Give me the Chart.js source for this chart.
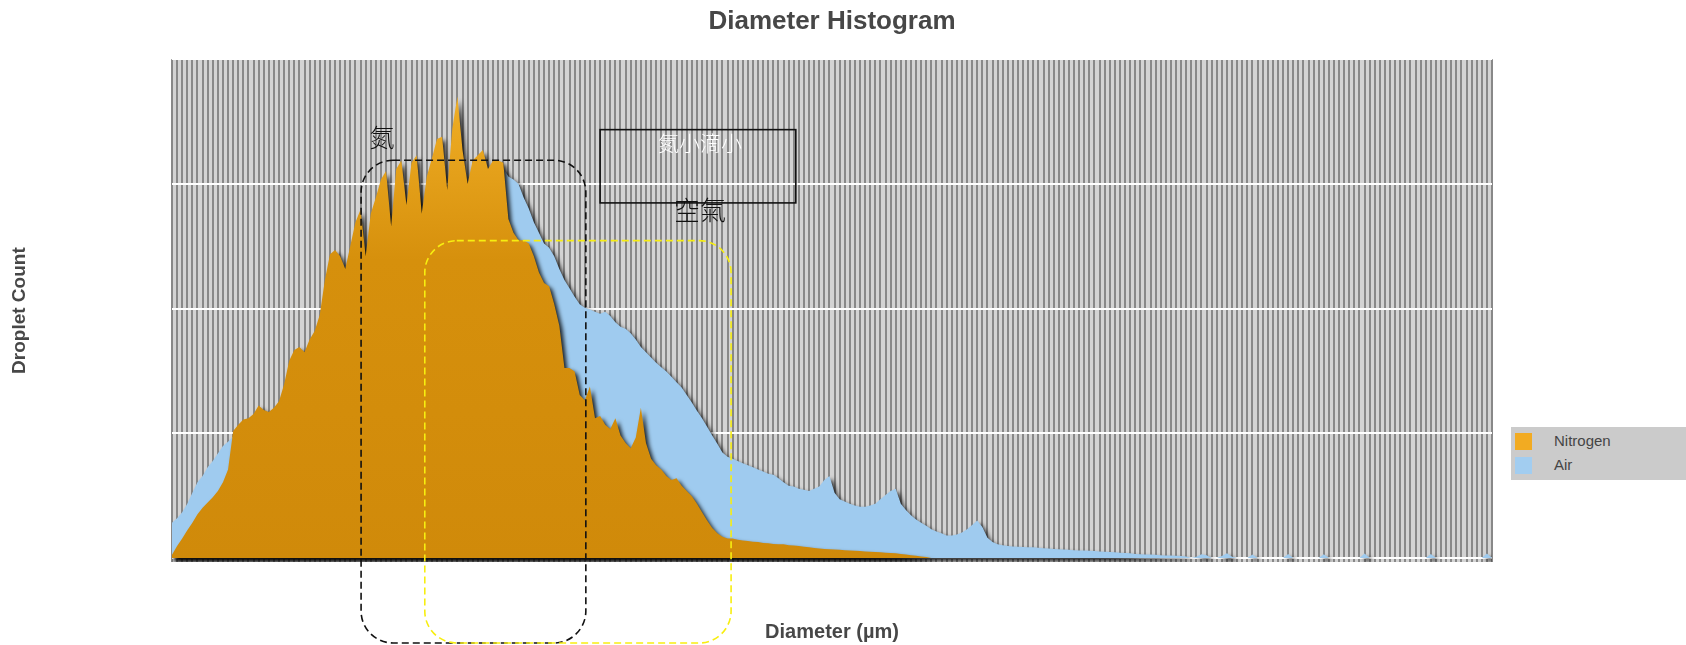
<!DOCTYPE html>
<html lang="zh-Hant">
<head>
    <meta charset="UTF-8">
    <title>Diameter Histogram</title>
    <script src="https://cdn.jsdelivr.net/npm/chart.js"></script>
    <style>
        body {
            margin: 0;
            background: #ffffff;
            font-family: "Liberation Sans", Arial, sans-serif;
        }
        .wrap {
            position: relative;
            width: 1686px;
            height: 645px;
        }
        .legend {
            position: absolute;
            left: 1511px;
            top: 427px;
            width: 175px;
            height: 53px;
            background: #cbcbcb;
            font-size: 15px;
            color: #454545;
        }
        .legend div {
            position: absolute;
            left: 43px;
            height: 18px;
            line-height: 18px;
        }
        .legend span {
            position: absolute;
            left: -39px;
            top: 1px;
            width: 17px;
            height: 17px;
        }
    </style>
</head>
<body>
    <div class="wrap">
        <canvas id="histChart"></canvas>
        <div class="legend">
            <div style="top: 5px;"><span style="background: #f2ab22;"></span>Nitrogen</div>
            <div style="top: 29px;"><span style="background: #a2cdf0;"></span>Air</div>
        </div>
    </div>

    <script>
        // histogram bins, 0.5 µm wide
        const binCount = 260;
        const diameters = Array.from({ length: binCount }, (_, i) => (i * 0.5).toFixed(1));
        const tickLabels = ['0.0', '6.5', '13.0', '19.5', '26.0', '32.5', '39.0', '45.5', '52.0', '58.5',
            '65.0', '71.5', '78.0', '84.5', '91.0', '97.5', '104.0', '110.5', '117.0', '123.5'];
        const yTicks = [0, 4000, 8000, 12000, 16000];

        const nitrogen = [
            100, 380, 620, 890, 1130, 1400, 1610, 1780, 1950, 2150,
            2430, 2840, 4070, 4270, 4440, 4480, 4620, 4890, 4750, 4680,
            4820, 5030, 5570, 6330, 6670, 6770, 6600, 7010, 7280, 7800,
            8920, 9740, 9880, 9680, 9270, 10020, 10770, 11180, 9680, 11040,
            11560, 12140, 12410, 10630, 12480, 12750, 11320, 12680, 12920, 11040,
            12240, 12820, 13440, 13510, 11800, 13780, 14800, 13090, 12000, 12750,
            12920, 13090, 12480, 12750, 12750, 12680, 10870, 10430, 10190, 10190,
            10090, 9680, 9160, 8820, 8720, 8140, 7450, 6090, 6090, 5980,
            5230, 5060, 5500, 4480, 4550, 4270, 4140, 4480, 3930, 3690,
            3520, 3860, 4820, 3690, 3180, 2970, 2840, 2630, 2500, 2560,
            2320, 2150, 1980, 1740, 1470, 1200, 960, 790, 680, 620,
            620, 580, 560, 540, 520, 510, 480, 470, 450, 440,
            440, 410, 400, 380, 360, 340, 320, 300, 290, 280,
            270, 260, 250, 240, 230, 220, 210, 200, 190, 180,
            170, 160, 150, 130, 110, 90, 70, 50, 30, 0,
            0, 0, 0, 0, 0, 0, 0, 0, 0, 0,
            0, 0, 0, 0, 0, 0, 0, 0, 0, 0,
            0, 0, 0, 0, 0, 0, 0, 0, 0, 0,
            0, 0, 0, 0, 0, 0, 0, 0, 0, 0,
            0, 0, 0, 0, 0, 0, 0, 0, 0, 0,
            0, 0, 0, 0, 0, 0, 0, 0, 0, 0,
            0, 0, 0, 0, 0, 0, 0, 0, 0, 0,
            0, 0, 0, 0, 0, 0, 0, 0, 0, 0,
            0, 0, 0, 0, 0, 0, 0, 0, 0, 0,
            0, 0, 0, 0, 0, 0, 0, 0, 0, 0,
            0, 0, 0, 0, 0, 0, 0, 0, 0, 0
        ];

        const air = [
            1130, 1270, 1470, 1740, 2090, 2430, 2630, 2910, 3110, 3350,
            3590, 3730, 3900, 4100, 4250, 4300, 4400, 4600, 4550, 4500,
            4600, 4800, 5200, 5800, 6100, 6300, 6200, 6600, 6900, 7300,
            8200, 8900, 9100, 9000, 8800, 9300, 9800, 10100, 9300, 10200,
            10600, 11000, 11200, 10200, 11400, 11600, 10900, 11500, 11800, 10600,
            11300, 11700, 12000, 12100, 11300, 12200, 12400, 12100, 11600, 12000,
            12100, 12200, 12100, 12300, 12400, 12500, 12240, 12140, 12000, 11560,
            11210, 10770, 10430, 10090, 9950, 9680, 9270, 8920, 8650, 8380,
            8140, 8030, 7970, 7900, 7830, 7900, 7760, 7560, 7420, 7350,
            7210, 7010, 6770, 6600, 6430, 6260, 6120, 5980, 5810, 5640,
            5470, 5230, 4990, 4720, 4480, 4210, 3930, 3660, 3380, 3250,
            3180, 3110, 3040, 2970, 2910, 2840, 2770, 2700, 2670, 2560,
            2430, 2320, 2290, 2220, 2190, 2150, 2220, 2290, 2500, 2630,
            2090, 1880, 1810, 1740, 1680, 1640, 1640, 1680, 1740, 1880,
            2020, 2150, 2220, 1740, 1540, 1370, 1230, 1130, 1030, 920,
            850, 790, 720, 720, 750, 820, 920, 1060, 1200, 990,
            650, 510, 440, 410, 380, 370, 360, 350, 340, 340,
            330, 310, 300, 290, 280, 270, 260, 250, 240, 240,
            230, 220, 210, 200, 190, 180, 170, 160, 150, 130,
            120, 110, 110, 100, 90, 80, 80, 70, 60, 50,
            0, 40, 120, 90, 0, 0, 60, 150, 40, 0,
            0, 0, 110, 0, 0, 0, 0, 0, 0, 130,
            0, 0, 0, 0, 0, 0, 120, 0, 0, 0,
            0, 0, 0, 0, 140, 0, 0, 0, 0, 0,
            0, 0, 0, 0, 0, 0, 0, 130, 0, 0,
            0, 0, 0, 0, 0, 0, 0, 0, 140, 0
        ];

        // overlay notes, placed in axis units (bin index / count)
        const textNotes = [
            { text: '氮', x: 41.2, y: 13490, color: '#111111', size: 25 },
            { text: '氮小滴小', x: 103.6, y: 13300, color: '#ffffff', size: 21 },
            { text: '空氣', x: 103.6, y: 11150, color: '#111111', size: 26 }
        ];
        const noteBox = { x0: 84, x1: 122.4, y0: 13740, y1: 11390 };
        const dashedFrames = [
            { x0: 37.1, x1: 81.2, top: 12760, color: '#111111' },
            { x0: 49.6, x1: 109.7, top: 10180, color: '#f7ee10' }
        ];

        const plotBackground = {
            id: 'plotBackground',
            beforeDraw(chart) {
                const { ctx, chartArea: a } = chart;
                ctx.save();
                ctx.fillStyle = '#d3d3d3';
                ctx.fillRect(a.left, a.top, a.width, a.height);
                ctx.restore();
            }
        };

        const dropShadow = {
            id: 'dropShadow',
            beforeDatasetsDraw(chart) {
                const ctx = chart.ctx;
                ctx.save();
                ctx.shadowColor = 'rgba(0, 0, 0, 0.85)';
                ctx.shadowBlur = 4;
                ctx.shadowOffsetX = 3;
                ctx.shadowOffsetY = 3;
            },
            afterDatasetsDraw(chart) {
                chart.ctx.restore();
            }
        };

        const notes = {
            id: 'notes',
            afterDraw(chart) {
                const { ctx, scales: { x, y } } = chart;
                ctx.save();

                dashedFrames.forEach(f => {
                    const left = x.getPixelForValue(f.x0);
                    const right = x.getPixelForValue(f.x1);
                    const top = y.getPixelForValue(f.top);
                    ctx.beginPath();
                    ctx.setLineDash([7, 4]);
                    ctx.lineWidth = 1.6;
                    ctx.strokeStyle = f.color;
                    ctx.roundRect(left, top, right - left, chart.height - 2 - top, 32);
                    ctx.stroke();
                });

                ctx.setLineDash([]);
                ctx.lineWidth = 1.6;
                ctx.strokeStyle = '#111111';
                const bx = x.getPixelForValue(noteBox.x0);
                const by = y.getPixelForValue(noteBox.y0);
                ctx.strokeRect(bx, by, x.getPixelForValue(noteBox.x1) - bx, y.getPixelForValue(noteBox.y1) - by);

                ctx.textAlign = 'center';
                ctx.textBaseline = 'middle';
                textNotes.forEach(t => {
                    ctx.font = '300 ' + t.size + 'px "Noto Sans CJK TC"';
                    ctx.fillStyle = t.color;
                    ctx.fillText(t.text, x.getPixelForValue(t.x), y.getPixelForValue(t.y));
                });
                ctx.restore();
            }
        };

        const ctx = document.getElementById('histChart').getContext('2d');
        const fillNitrogen = (c) => {
            const a = c.chart.chartArea;
            if (!a) return '#d38e0b';
            const g = c.chart.ctx.createLinearGradient(0, a.top, 0, a.bottom);
            g.addColorStop(0, '#f6b52c');
            g.addColorStop(0.4, '#d6900c');
            g.addColorStop(1, '#d08a0a');
            return g;
        };

        new Chart(ctx, {
            type: 'line',
            data: {
                labels: diameters,
                datasets: [
                    {
                        label: 'Nitrogen',
                        data: nitrogen,
                        backgroundColor: fillNitrogen,
                        borderWidth: 0,
                        pointRadius: 0,
                        tension: 0,
                        fill: 'origin'
                    },
                    {
                        label: 'Air',
                        data: air,
                        backgroundColor: '#9fcbef',
                        borderWidth: 0,
                        pointRadius: 0,
                        tension: 0,
                        fill: 'origin'
                    }
                ]
            },
            options: {
                responsive: true,
                maintainAspectRatio: false,
                animation: false,
                layout: { padding: { left: 0, right: 194, top: 0, bottom: 0 } },
                plugins: {
                    legend: { display: false },
                    tooltip: { enabled: false },
                    title: {
                        display: true,
                        fullSize: false,
                        text: 'Diameter Histogram',
                        color: '#474747',
                        font: { family: '"Liberation Sans", Arial, sans-serif', size: 26, weight: 'bold' },
                        padding: { top: 6, bottom: 22 }
                    }
                },
                scales: {
                    x: {
                        offset: false,
                        border: { display: false },
                        afterFit: (scale) => { scale.height = 83; },
                        grid: { color: '#888888', lineWidth: 2, drawTicks: false },
                        ticks: {
                            autoSkip: false,
                            maxRotation: 0,
                            padding: 18,
                            color: '#ffffff',
                            font: { family: '"Liberation Sans", Arial, sans-serif', size: 15 },
                            callback: (v, i) => (i % 13 === 0 ? tickLabels[i / 13] : '')
                        },
                        title: {
                            display: true,
                            text: 'Diameter (µm)',
                            color: '#474747',
                            font: { family: '"Liberation Sans", Arial, sans-serif', size: 20, weight: 'bold' },
                            padding: { top: 22, bottom: 1 }
                        }
                    },
                    y: {
                        min: -130,
                        max: 16000,
                        border: { display: false },
                        afterFit: (scale) => { scale.width = 172; },
                        afterBuildTicks: (scale) => { scale.ticks = yTicks.map(v => ({ value: v })); },
                        grid: { color: '#ffffff', lineWidth: 2, drawTicks: false },
                        ticks: {
                            padding: 46,
                            color: '#ffffff',
                            font: { family: '"Liberation Sans", Arial, sans-serif', size: 16 }
                        },
                        title: {
                            display: true,
                            text: 'Droplet Count',
                            color: '#474747',
                            font: { family: '"Liberation Sans", Arial, sans-serif', size: 19, weight: 'bold' },
                            padding: { top: 8 }
                        }
                    }
                }
            },
            plugins: [plotBackground, dropShadow, notes]
        });
    </script>
</body>
</html>
